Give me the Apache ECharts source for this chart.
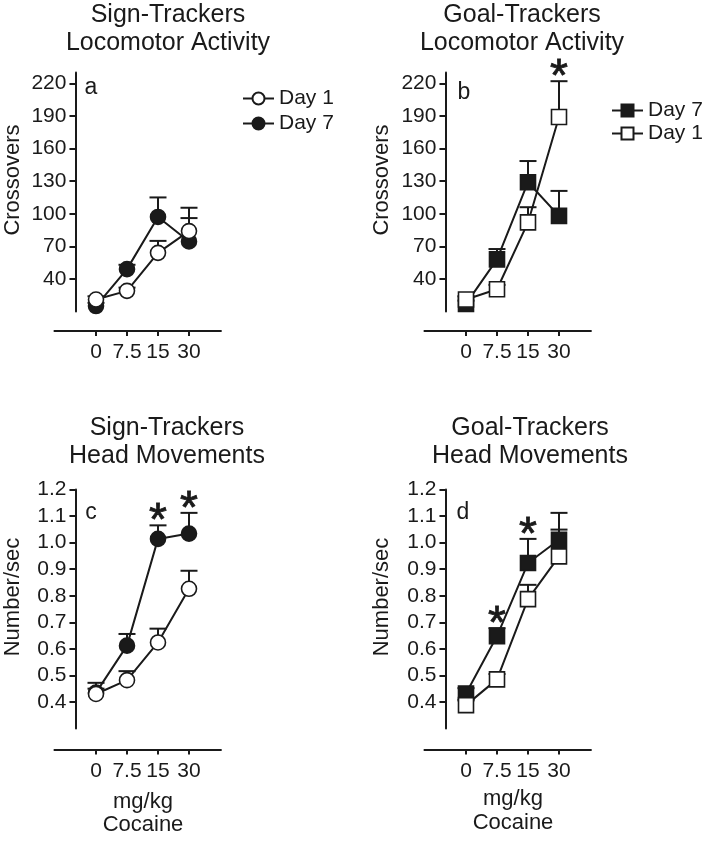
<!DOCTYPE html>
<html><head><meta charset="utf-8">
<script src="https://cdn.jsdelivr.net/npm/echarts@6/dist/echarts.min.js"></script>
<style>html,body{margin:0;padding:0;background:#fff}#c{width:705px;height:841px}</style>
</head><body><div id="c"></div>
<script>
// ---------------- data ----------------
const doseLabels = ['0', '7.5', '15', '30'];
const doseIdx = [0, 1, 2, 3];

// (a) Sign-Trackers, Locomotor Activity (crossovers)
const stLocoDay1 = [21, 29, 64, 84];
const stLocoDay1Err = [3, 3, 11, 21.5];
const stLocoDay7 = [15, 49, 97, 74.5];
const stLocoDay7Err = [3, 4, 18, 21.5];

// (b) Goal-Trackers, Locomotor Activity
const gtLocoDay7 = [17, 58, 129, 98];
const gtLocoDay7Err = [3, 9.5, 19.5, 23];
const gtLocoDay1 = [21, 30.5, 92, 189];
const gtLocoDay1Err = [3, 4, 14, 33];

// (c) Sign-Trackers, Head Movements (number/sec)
const stHeadDay1 = [0.43, 0.482, 0.624, 0.826];
const stHeadDay1Err = [0.02, 0.034, 0.052, 0.068];
const stHeadDay7 = [0.435, 0.612, 1.014, 1.034];
const stHeadDay7Err = [0.037, 0.044, 0.051, 0.078];

// (d) Goal-Trackers, Head Movements
const gtHeadDay7 = [0.432, 0.648, 0.923, 1.011];
const gtHeadDay7Err = [0.02, 0.03, 0.091, 0.101];
const gtHeadDay1 = [0.388, 0.485, 0.787, 0.948];
const gtHeadDay1Err = [0.02, 0.02, 0.054, 0.101];

// significance marks (dose indices)
const sigB = [3];     // goal-trackers locomotor
const sigC = [2, 3];  // sign-trackers head movements
const sigD = [1, 2];  // goal-trackers head movements

const locoTicks = [40, 70, 100, 130, 160, 190, 220];
const headTicks = [0.4, 0.5, 0.6, 0.7, 0.8, 0.9, 1.0, 1.1, 1.2];

// ---------------- layout ----------------
const FONT = 'Liberation Sans, Arial, Helvetica, sans-serif';
const INK = '#1a1a1a';
const STEP = 31, XMIN = -1.34, XMAX = 4.03, H = 239;
const panels = [
  {tick0: 96,  top: 72.5,  yMin: 10,  yMax: 230, ticks: locoTicks, dec: 0, xOff: 19.5},
  {tick0: 466, top: 72.5,  yMin: 10,  yMax: 230, ticks: locoTicks, dec: 0, xOff: 19.5},
  {tick0: 96,  top: 489.5, yMin: 0.3, yMax: 1.2, ticks: headTicks, dec: 1, xOff: 21},
  {tick0: 466, top: 489.5, yMin: 0.3, yMax: 1.2, ticks: headTicks, dec: 1, xOff: 21}
];

const axisLine = {show: true, onZero: false, lineStyle: {color: INK, width: 2}};
const grid = [], xAxis = [], yAxis = [];
panels.forEach(p => {
  grid.push({left: p.tick0 + XMIN * STEP, top: p.top, width: (XMAX - XMIN) * STEP, height: H,
             containLabel: false, outerBoundsMode: 'none'});
  const gi = grid.length - 1;
  xAxis.push({
    type: 'value', gridIndex: gi, min: XMIN, max: XMAX, offset: p.xOff,
    axisLine: axisLine,
    axisTick: {show: true, length: 5, customValues: doseIdx, lineStyle: {color: INK, width: 2}},
    axisLabel: {customValues: doseIdx, formatter: v => doseLabels[Math.round(v)], margin: 11,
                fontSize: 21, color: INK, fontFamily: FONT},
    splitLine: {show: false}
  });
  yAxis.push({
    type: 'value', gridIndex: gi, min: p.yMin, max: p.yMax, offset: -21,
    axisLine: axisLine,
    axisTick: {show: true, length: 6, customValues: p.ticks, lineStyle: {color: INK, width: 2}},
    axisLabel: {customValues: p.ticks, formatter: v => v.toFixed(p.dec), margin: 9,
                fontSize: 21, color: INK, fontFamily: FONT},
    splitLine: {show: false}
  });
});

const series = [];
function errSeries(pi, mean, err) {
  series.push({
    type: 'custom', xAxisIndex: pi, yAxisIndex: pi, z: 1, silent: true,
    data: doseIdx.map(i => [i, mean[i], err[i]]),
    renderItem: (params, api) => {
      const x = api.value(0), m = api.value(1), e = api.value(2);
      const p0 = api.coord([x, m]), p1 = api.coord([x, m + e]);
      const half = 8.5;
      return {type: 'group', children: [
        {type: 'line', shape: {x1: p0[0], y1: p0[1], x2: p1[0], y2: p1[1]}, style: {stroke: INK, lineWidth: 2}},
        {type: 'line', shape: {x1: p1[0] - half, y1: p1[1], x2: p1[0] + half, y2: p1[1]}, style: {stroke: INK, lineWidth: 2}}
      ]};
    }
  });
}
function lineSeries(pi, name, mean, symbol, filled, size) {
  series.push({
    type: 'line', name: name, xAxisIndex: pi, yAxisIndex: pi, z: 3,
    data: doseIdx.map(i => [i, mean[i]]),
    symbol: symbol, symbolSize: size, showAllSymbols: true,
    lineStyle: {color: INK, width: 2},
    itemStyle: {color: filled ? INK : '#ffffff', borderColor: INK, borderWidth: 1.6},
    emphasis: {disabled: true}, animation: false
  });
}
function sigSeries(pi, idxs, mean, err) {
  series.push({
    type: 'custom', xAxisIndex: pi, yAxisIndex: pi, z: 4, silent: true,
    data: idxs.map(i => [i, mean[i] + err[i]]),
    renderItem: (params, api) => {
      const c = api.coord([api.value(0), api.value(1)]);
      return {type: 'text', x: c[0], y: c[1] - 3,
        style: {text: '*', fontSize: 46, fontFamily: FONT, fill: INK, stroke: INK, lineWidth: 0.8,
                textAlign: 'center', textVerticalAlign: 'middle', align: 'center', verticalAlign: 'middle'}};
    }
  });
}

// panel a
errSeries(0, stLocoDay7, stLocoDay7Err);
errSeries(0, stLocoDay1, stLocoDay1Err);
lineSeries(0, 'Day 7|a', stLocoDay7, 'circle', true, 15);
lineSeries(0, 'Day 1|a', stLocoDay1, 'circle', false, 15);
// panel b
errSeries(1, gtLocoDay7, gtLocoDay7Err);
errSeries(1, gtLocoDay1, gtLocoDay1Err);
lineSeries(1, 'Day 7|b', gtLocoDay7, 'rect', true, 15);
lineSeries(1, 'Day 1|b', gtLocoDay1, 'rect', false, 15);
sigSeries(1, sigB, gtLocoDay1, gtLocoDay1Err);
// panel c
errSeries(2, stHeadDay7, stHeadDay7Err);
errSeries(2, stHeadDay1, stHeadDay1Err);
lineSeries(2, 'Day 7|c', stHeadDay7, 'circle', true, 15);
lineSeries(2, 'Day 1|c', stHeadDay1, 'circle', false, 15);
sigSeries(2, sigC, stHeadDay7, stHeadDay7Err);
// panel d
errSeries(3, gtHeadDay7, gtHeadDay7Err);
errSeries(3, gtHeadDay1, gtHeadDay1Err);
lineSeries(3, 'Day 7|d', gtHeadDay7, 'rect', true, 15);
lineSeries(3, 'Day 1|d', gtHeadDay1, 'rect', false, 15);
sigSeries(3, sigD, gtHeadDay7, gtHeadDay7Err);

const legendBase = {
  orient: 'vertical', itemWidth: 31, itemHeight: 15, itemGap: 4, selectedMode: false,
  formatter: n => n.split('|')[0], padding: 0,
  textStyle: {fontSize: 21, color: INK, fontFamily: FONT}
};
const legend = [
  Object.assign({}, legendBase, {data: ['Day 1|a', 'Day 7|a'], left: 242, top: 88}),
  Object.assign({}, legendBase, {data: ['Day 7|b', 'Day 1|b'], left: 611, top: 100, itemGap: 2})
];

function txt(t, x, y, size, rot) {
  return {type: 'text', x: x, y: y, rotation: rot || 0, silent: true,
    style: {text: t, fontSize: size, fontFamily: FONT, fill: INK,
            textAlign: 'center', textVerticalAlign: 'middle', align: 'center', verticalAlign: 'middle'}};
}
const graphic = [
  txt('Sign-Trackers', 168, 15, 25), txt('Locomotor Activity', 168, 43, 25),
  txt('Goal-Trackers', 522, 15, 25), txt('Locomotor Activity', 522, 43, 25),
  txt('Sign-Trackers', 167, 428, 25), txt('Head Movements', 167, 456, 25),
  txt('Goal-Trackers', 530, 428, 25), txt('Head Movements', 530, 456, 25),
  txt('a', 91, 88, 23), txt('b', 464, 93, 23), txt('c', 91, 513, 23), txt('d', 463, 513, 23),
  txt('Crossovers', 13, 180, 22, Math.PI / 2), txt('Crossovers', 382, 180, 22, Math.PI / 2),
  txt('Number/sec', 13, 597, 22, Math.PI / 2), txt('Number/sec', 382, 597, 22, Math.PI / 2),
  txt('mg/kg', 143, 801.5, 22), txt('Cocaine', 143, 825, 22),
  txt('mg/kg', 513, 798.5, 22), txt('Cocaine', 513, 823, 22)
];

const chart = echarts.init(document.getElementById('c'), null, {renderer: 'canvas'});
chart.setOption({
  animation: false, backgroundColor: '#ffffff',
  grid: grid, xAxis: xAxis, yAxis: yAxis, series: series, legend: legend, graphic: graphic
});
</script></body></html>
